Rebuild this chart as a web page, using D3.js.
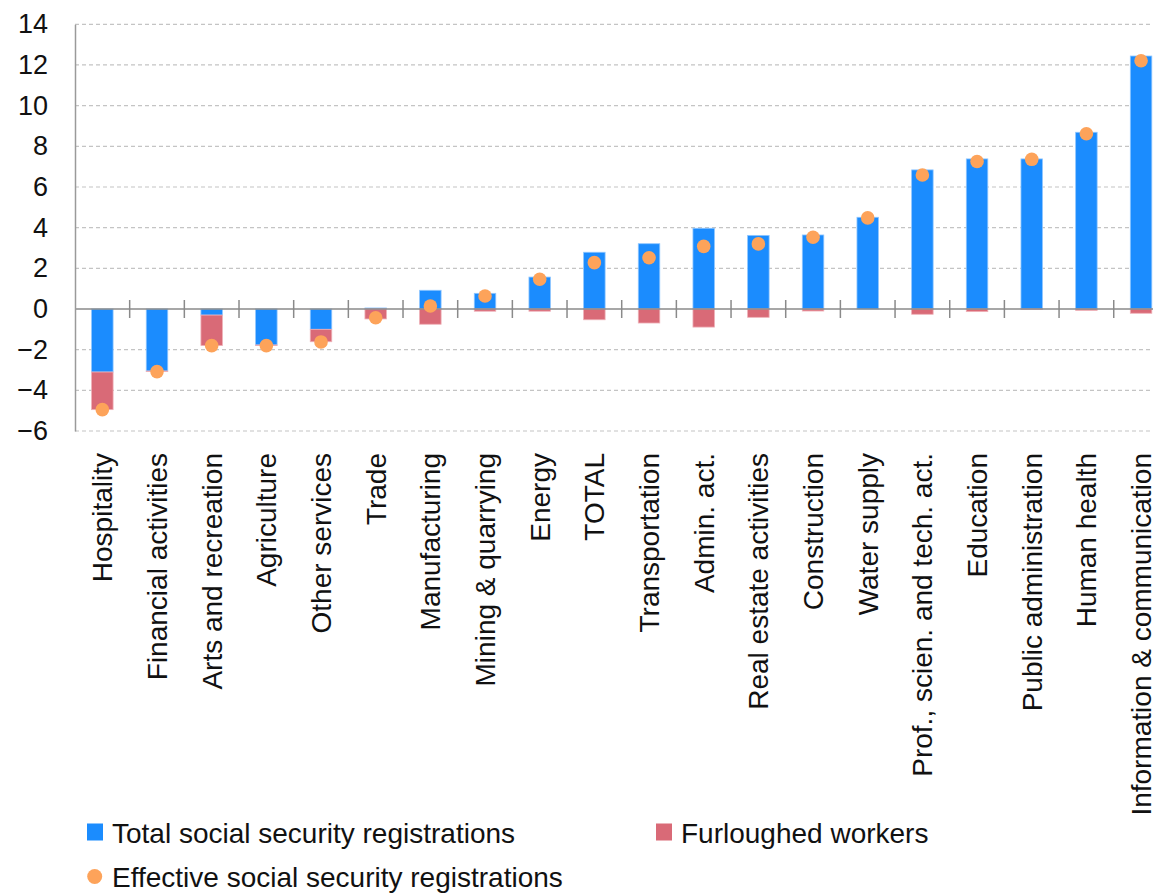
<!DOCTYPE html>
<html>
<head>
<meta charset="utf-8">
<script src="https://cdn.jsdelivr.net/npm/d3@7"></script>
<style>
  html, body { margin: 0; padding: 0; background: #fff; overflow: hidden; }
  svg { display: block; font-family: "Liberation Sans", Arial, Helvetica, sans-serif; }
</style>
</head>
<body>
<svg id="chart" width="1153" height="893"></svg>
<script>
// Sectors, ordered by growth in total registrations
const categories = [
  "Hospitality", "Financial activities", "Arts and recreation", "Agriculture",
  "Other services", "Trade", "Manufacturing", "Mining & quarrying", "Energy",
  "TOTAL", "Transportation", "Admin. act.", "Real estate activities",
  "Construction", "Water supply", "Prof., scien. and tech. act.", "Education",
  "Public administration", "Human health", "Information & communication"
];
// Year-on-year change, percentage points
const totalRegistrations = [-3.10, -3.05, -0.30, -1.77, -1.00, 0.05, 0.92, 0.77, 1.57, 2.79,
  3.21, 3.97, 3.62, 3.64, 4.51, 6.84, 7.38, 7.38, 8.69, 12.44];
const furloughedWorkers = [-1.85, -0.03, -1.50, -0.03, -0.61, -0.49, -0.75, -0.11, -0.11, -0.53,
  -0.69, -0.89, -0.41, -0.10, 0.00, -0.26, -0.13, -0.02, -0.07, -0.21];
const effectiveRegistrations = [-4.95, -3.08, -1.80, -1.80, -1.62, -0.43, 0.15, 0.64, 1.46, 2.28,
  2.52, 3.08, 3.20, 3.53, 4.48, 6.59, 7.25, 7.36, 8.62, 12.21];
const yTicks = [-6, -4, -2, 0, 2, 4, 6, 8, 10, 12, 14];

const legendItems = [
  { label: "Total social security registrations", type: "rect", color: "#1b8cfe" },
  { label: "Furloughed workers", type: "rect", color: "#d96a77" },
  { label: "Effective social security registrations", type: "circle", color: "#fda35a" }
];

const colors = { total: "#1b8cfe", totalEdge: "#8fc6ff", furl: "#d96a77", furlEdge: "#eeb0b7", dot: "#fda35a" };

const svg = d3.select("#chart");
const plotLeft = 75, plotTop = 24.3, plotBottom = 431;
const bandW = 54.67;

const x = d3.scaleBand().domain(categories).range([plotLeft, plotLeft + bandW * categories.length]).paddingInner(0).paddingOuter(0);
const y = d3.scaleLinear().domain([-6, 14]).range([plotBottom, plotTop]);
const barW = 21.5;

// Dashed gridlines
svg.append("g").selectAll("line")
  .data(yTicks.filter(d => d !== 0))
  .join("line")
  .attr("x1", plotLeft).attr("x2", 1153)
  .attr("y1", d => y(d)).attr("y2", d => y(d))
  .attr("stroke", "#c4c4c4").attr("stroke-width", 1.2)
  .attr("stroke-dasharray", "4,3");

// Total registrations bars
svg.append("g").selectAll("rect")
  .data(categories)
  .join("rect")
  .attr("x", (d) => x(d) + x.bandwidth() / 2 - barW / 2)
  .attr("width", barW)
  .attr("y", (d, i) => y(Math.max(0, totalRegistrations[i])))
  .attr("height", (d, i) => Math.abs(y(totalRegistrations[i]) - y(0)))
  .attr("fill", colors.total)
  .attr("stroke", colors.totalEdge).attr("stroke-width", 0.8);

// Furloughed workers, stacked below the negative part
svg.append("g").selectAll("rect")
  .data(categories)
  .join("rect")
  .attr("x", (d) => x(d) + x.bandwidth() / 2 - barW / 2)
  .attr("width", barW)
  .attr("y", (d, i) => y(Math.min(0, totalRegistrations[i])))
  .attr("height", (d, i) => Math.abs(y(furloughedWorkers[i]) - y(0)))
  .attr("fill", colors.furl)
  .attr("stroke", colors.furlEdge).attr("stroke-width", (d, i) => furloughedWorkers[i] === 0 ? 0 : 0.8);

// Zero line with category separators
svg.append("line")
  .attr("x1", plotLeft).attr("x2", 1153)
  .attr("y1", y(0)).attr("y2", y(0))
  .attr("stroke", "#8a8a8a").attr("stroke-width", 1.5);

svg.append("g").selectAll("line")
  .data(categories.slice(1))
  .join("line")
  .attr("x1", d => x(d)).attr("x2", d => x(d))
  .attr("y1", y(0) - 9).attr("y2", y(0) + 9)
  .attr("stroke", "#8a8a8a").attr("stroke-width", 1.5);

// Y axis
const yAxis = d3.axisLeft(y).tickValues(yTicks).tickSize(0).tickPadding(27).tickFormat(d3.format("d"));
const gy = svg.append("g").attr("transform", `translate(${plotLeft},0)`).call(yAxis);
gy.select(".domain").attr("stroke", "#9a9a9a").attr("stroke-width", 1.5);
gy.selectAll("text").attr("font-size", 27).attr("fill", "#111").attr("font-family", "Liberation Sans, Arial, sans-serif");

// Effective registrations dots
svg.append("g").selectAll("circle")
  .data(categories)
  .join("circle")
  .attr("cx", d => x(d) + x.bandwidth() / 2)
  .attr("cy", (d, i) => y(effectiveRegistrations[i]))
  .attr("r", 6.8)
  .attr("fill", colors.dot);

// Category labels
svg.append("g").selectAll("text")
  .data(categories)
  .join("text")
  .attr("transform", d => `translate(${x(d) + x.bandwidth() / 2},453) rotate(-90)`)
  .attr("text-anchor", "end")
  .attr("dy", "0.36em")
  .attr("font-size", 28)
  .attr("fill", "#111")
  .text(d => d);

// Legend
const legendPos = [
  { x: 87, y: 843 },
  { x: 656, y: 843 },
  { x: 87, y: 887 }
];
const lg = svg.append("g");
legendItems.forEach((item, i) => {
  const p = legendPos[i];
  if (item.type === "rect") {
    lg.append("rect").attr("x", p.x).attr("y", p.y - 19.5).attr("width", 16).attr("height", 17).attr("fill", item.color);
  } else {
    lg.append("circle").attr("cx", p.x + 7.7).attr("cy", p.y - 10.5).attr("r", 7.5).attr("fill", item.color);
  }
  lg.append("text")
    .attr("x", p.x + 25).attr("y", p.y)
    .attr("font-size", 28).attr("fill", "#111")
    .text(item.label);
});
</script>
</body>
</html>
